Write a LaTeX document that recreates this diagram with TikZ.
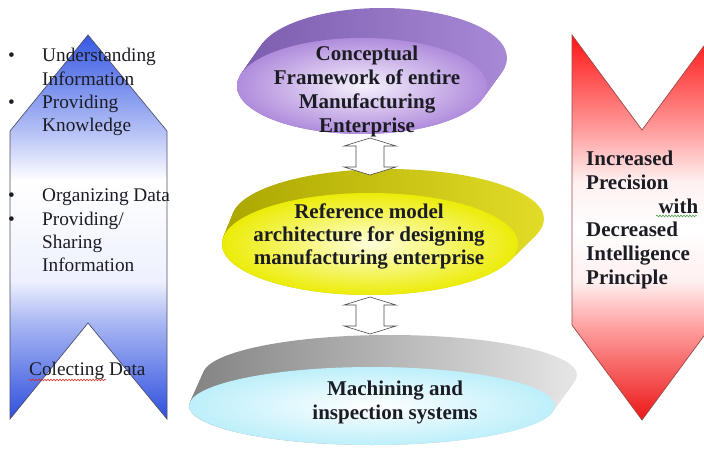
\documentclass[tikz,border=0pt]{standalone}
\usepackage{fontspec}
\setmainfont{Liberation Serif}
\usetikzlibrary{shapes.geometric,decorations.pathmorphing}
\definecolor{bTop}{HTML}{3558E2}
\definecolor{bMid}{HTML}{B4C0F6}
\definecolor{bPale}{HTML}{EEF1FD}
\definecolor{bLow}{HTML}{A9B7F3}
\definecolor{bBot}{HTML}{2F50DE}
\definecolor{bLine}{HTML}{50506A}
\definecolor{rTop}{HTML}{FF1414}
\definecolor{rMid}{HTML}{FF9C9C}
\definecolor{rPale}{HTML}{FFF0F0}
\definecolor{rLow}{HTML}{FFA4A4}
\definecolor{rBot}{HTML}{EC1616}
\definecolor{rLine}{HTML}{9A4A4A}
\definecolor{pSideL}{HTML}{7E5FB0}
\definecolor{pSideR}{HTML}{A889D6}
\definecolor{pOut}{HTML}{B08CDC}
\definecolor{pIn}{HTML}{F6F1FC}
\definecolor{ySideL}{HTML}{ADA800}
\definecolor{ySideR}{HTML}{E2DC28}
\definecolor{yOut}{HTML}{ECEC08}
\definecolor{yIn}{HTML}{FFFFDC}
\definecolor{gSideL}{HTML}{868686}
\definecolor{gSideR}{HTML}{E6E6E6}
\definecolor{cOut}{HTML}{BDEFFA}
\definecolor{cIn}{HTML}{FFFFFF}
\definecolor{txt}{HTML}{1C1C24}
\definecolor{spellR}{HTML}{E02020}
\definecolor{spellG}{HTML}{3A9A3A}
\pgfdeclareverticalshading{blueshade}{100bp}{color(0bp)=(bBot); color(25bp)=(bBot); color(37.6bp)=(bLow); color(43bp)=(bPale); color(56bp)=(white); color(62.5bp)=(bMid); color(75bp)=(bTop); color(100bp)=(bTop)}
\pgfdeclareverticalshading{redshade}{100bp}{color(0bp)=(rBot); color(25bp)=(rBot); color(37.4bp)=(rLow); color(43bp)=(rPale); color(50bp)=(white); color(56bp)=(rPale); color(62.7bp)=(rMid); color(75bp)=(rTop); color(100bp)=(rTop)}
\tikzset{
  chev/.style={line width=0.7pt},
  disc/.style={ellipse, inner sep=0pt, draw=none},
  ptext/.style={font={\fontsize{21}{24}\selectfont\bfseries}, align=center, text=txt, inner sep=0pt},
  ltext/.style={font={\fontsize{19.3}{23.3}\selectfont}, text=txt, inner sep=0pt},
  arrowline/.style={draw=black!70, fill=white, line width=0.6pt, line join=miter},
  wavy/.style={decorate, decoration={snake, amplitude=0.9pt, segment length=3pt}, line width=0.5pt},
  dblarrow/.pic={\path[arrowline] (0,-18.5) -- (26,-10.5) -- (14,-10.5) -- (14,10.5) -- (26,10.5) -- (0,18.5) -- (-26,10.5) -- (-14,10.5) -- (-14,-10.5) -- (-26,-10.5) -- cycle;}
}
% sweep of a disc side: #1,#2 front centre; #3,#4 back centre; #5,#6 front radii; #7,#8 back radii; #9 colours
\newcommand\discside[9]{%
  \foreach \k in {0,1,...,30}{%
    \pgfmathsetmacro\tt{\k/30}%
    \shade[#9] ({#1+(#3-#1)*\tt},{#2+(#4-#2)*\tt}) ellipse [x radius={#5+(#7-#5)*\tt}, y radius={#6+(#8-#6)*\tt}];
  }%
}
\begin{document}
\begin{tikzpicture}[x=1pt,y=-1pt]
\useasboundingbox (0,0) rectangle (704,452);
% left (up) chevron
\shadedraw[chev, shading=blueshade, draw=bLine] (88,35) -- (167,131) -- (167,419) -- (88,323) -- (10,419) -- (10,131) -- cycle;
% right (down) chevron
\shadedraw[chev, shading=redshade, draw=rLine] (572,35) -- (642,130) -- (712,35) -- (712,325) -- (642,420) -- (572,325) -- cycle;
% purple disc
\discside{362}{86}{382}{58}{125}{48}{125}{50}{left color=pSideL, right color=pSideR}
\node[disc, minimum width=250, minimum height=96, inner color=pIn, outer color=pOut] (conc) at (362,86) {};
% yellow disc
\discside{370}{244}{388}{219}{148}{51}{156}{50}{left color=ySideL, right color=ySideR}
\node[disc, minimum width=296, minimum height=102, inner color=yIn, outer color=yOut] (refm) at (370,244) {};
% cyan disc
\discside{372}{406}{390}{375}{183}{39}{187}{40}{left color=gSideL, right color=gSideR}
\node[disc, minimum width=366, minimum height=78, inner color=cIn, outer color=cOut] (mach) at (372,406) {};
% double arrows
\coordinate (a1) at (370,156.5);
\coordinate (a2) at (370,315.5);
\path (a1) pic {dblarrow};
\path (a2) pic {dblarrow};
% disc texts
\node[ptext] (tconc) at (367,91) {Conceptual\\Framework of entire\\Manufacturing\\Enterprise};
\node[ptext, font={\fontsize{21}{23}\selectfont\bfseries}] (trefm) at (369,236) {Reference model\\architecture for designing\\manufacturing enterprise};
\node[ptext] (tmach) at (395,402) {Machining and\\inspection systems};
% right text
\node[ptext, align=left, text width=112, anchor=west, font={\fontsize{21}{23.8}\selectfont\bfseries}] (tprec) at (586,220) {Increased\\Precision\\\makebox[\linewidth][r]{with}\\Decreased\\Intelligence\\Principle};
% left texts
\node[ltext, anchor=west] (tg1) at (8,92) {\begin{tabular}{@{}p{34pt}@{}l@{}}\textbullet & Understanding\\ & Information\\ \textbullet & Providing\\ & Knowledge\end{tabular}};
\node[ltext, anchor=west] (tg2) at (8,232) {\begin{tabular}{@{}p{34pt}@{}l@{}}\textbullet & Organizing Data\\ \textbullet & Providing/\\ & Sharing\\ & Information\end{tabular}};
\node[ltext, anchor=base west] (tcol) at (29,375) {Colecting Data};
% spelling marks
\coordinate (sr) at (29,380);
\draw[wavy, spellR] (sr) -- ++(77,0);
\coordinate (sg) at (656,216);
\draw[wavy, spellG] (sg) -- ++(41,0);
\end{tikzpicture}
\end{document}
